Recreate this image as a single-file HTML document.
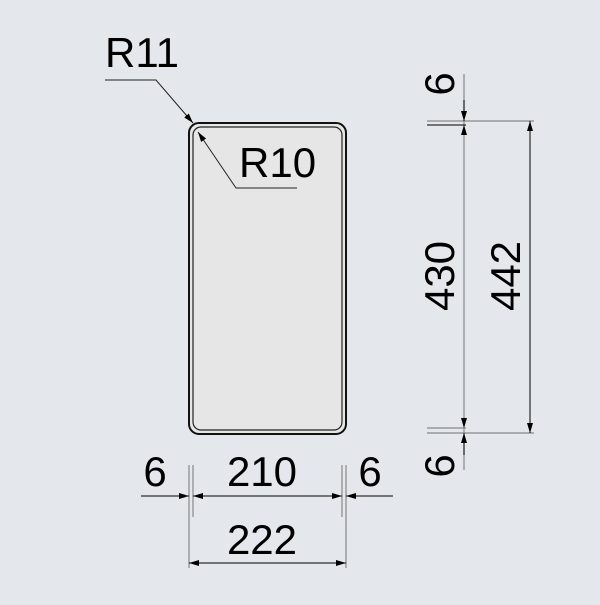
<!DOCTYPE html><html><head><style>body{margin:0;background:#e4e7ec}</style></head><body>
<svg width="600" height="600" xmlns="http://www.w3.org/2000/svg" font-family="Liberation Sans, sans-serif" font-size="42">
<defs><marker id="a" viewBox="0 0 10 6" refX="10" refY="3" markerWidth="10" markerHeight="6" orient="auto-start-reverse" markerUnits="userSpaceOnUse"><path d="M0,0L10,3L0,6z" fill="#000"/></marker></defs>
<rect width="600" height="600" fill="#e4e7ec"/>
<rect x="189" y="123" width="157" height="311" rx="10" fill="#e6e6e6" stroke="#111" stroke-width="2"/>
<rect x="193" y="127" width="149" height="303" rx="8" fill="none" stroke="#222" stroke-width="1.2"/>
<text x="105" y="67">R11</text>
<text x="239" y="177">R10</text>
<polyline points="105,80 156,80 193,123" fill="none" stroke="#222" stroke-width="1" marker-end="url(#a)"/>
<polyline points="297,188 236,188 198,132" fill="none" stroke="#222" stroke-width="1" marker-end="url(#a)"/>
<g stroke="#888" stroke-width="1.2">
<line x1="189" y1="465" x2="189" y2="568"/><line x1="193" y1="465" x2="193" y2="517"/>
<line x1="342" y1="465" x2="342" y2="517"/><line x1="346" y1="465" x2="346" y2="568"/>
<line x1="427" y1="121" x2="534" y2="121"/><line x1="427" y1="433" x2="534" y2="433"/>
<line x1="427" y1="428" x2="466" y2="428"/>
<line x1="464" y1="74" x2="464" y2="470"/>
</g>
<line x1="427" y1="125" x2="466" y2="125" stroke="#000" stroke-width="1"/>
<g stroke="#000" stroke-width="1">
<line x1="141" y1="496" x2="189" y2="496" marker-end="url(#a)"/>
<line x1="193" y1="496" x2="342" y2="496" marker-start="url(#a)" marker-end="url(#a)"/>
<line x1="393" y1="496" x2="346" y2="496" marker-end="url(#a)"/>
<line x1="189" y1="563" x2="346" y2="563" marker-start="url(#a)" marker-end="url(#a)"/>
<line x1="530" y1="121" x2="530" y2="433" marker-start="url(#a)" marker-end="url(#a)"/>
<line x1="464" y1="100" x2="464" y2="121" marker-end="url(#a)"/>
<line x1="464" y1="125" x2="464" y2="428" stroke="none" marker-start="url(#a)" marker-end="url(#a)"/>
<line x1="464" y1="455" x2="464" y2="433" marker-end="url(#a)"/>
</g>
<g text-anchor="middle">
<text x="155" y="486">6</text><text x="262" y="486">210</text><text x="370" y="486">6</text>
<text x="262" y="554">222</text>
<text transform="translate(454,84) rotate(-90)">6</text>
<text transform="translate(454,276) rotate(-90)">430</text>
<text transform="translate(520,276) rotate(-90)">442</text>
<text transform="translate(454,466) rotate(-90)">6</text>
</g>
</svg></body></html>
